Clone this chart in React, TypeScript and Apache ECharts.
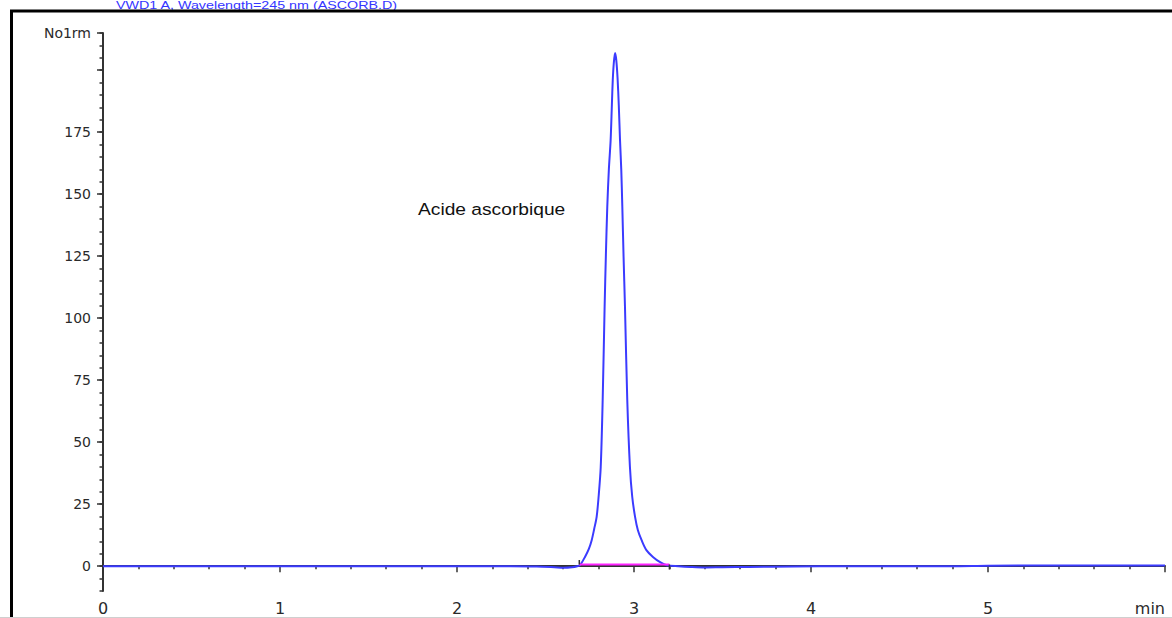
import React, { useEffect, useRef } from "react";
import * as echarts from "echarts";

// Chromatogram trace (time in min, response)
const times = [
  0, 0.5, 1.0, 1.5, 2.0, 2.3, 2.45, 2.55, 2.6, 2.65, 2.68, 2.695, 2.723, 2.745, 2.761,
  2.775, 2.789, 2.8, 2.812, 2.823, 2.834, 2.841, 2.849, 2.858, 2.868, 2.875, 2.88, 2.886,
  2.893, 2.9, 2.907, 2.914, 2.921, 2.928, 2.934, 2.941, 2.949, 2.962, 2.977, 2.99, 3.006,
  3.022, 3.043, 3.07, 3.107, 3.15, 3.185, 3.25, 3.32, 3.4, 3.5, 3.65, 3.9, 4.2, 4.8, 5.0,
  5.5, 6.0,
];
const values = [
  0, 0, 0, 0, 0, 0, -0.1, -0.4, -0.6, -0.4, 0.0, 0.4, 3.75, 7.0, 10.5,
  15.0, 19.9, 28.0, 40.0, 66.9, 104.6, 125, 144.9, 160, 171.8, 186, 196, 203,
  206.9, 204, 197, 186, 171.8, 160, 144.9, 125, 104.6, 66.9, 40.0, 28.0, 19.9,
  14.5, 10.5, 6.5, 3.75, 1.5, 0.4, 0.0, -0.3, -0.5, -0.4, -0.3, -0.1, 0.0, 0.0, 0.2,
  0.3, 0.3,
];

// Integration baseline and its start / end markers
const baseStart = 2.691;
const baseEnd = 3.2;
const baseLevel = 0.7;

const peakName = "Acide ascorbique";
const signalTitle = "VWD1 A, Wavelength=245 nm (ASCORB.D)";
const yUnit = "No1rm";
const xUnit = "min";

const yMajorTicks = [0, 25, 50, 75, 100, 125, 150, 175, 200, 215];
const yLabelValues = [0, 25, 50, 75, 100, 125, 150, 175, 215];

export default function App() {
  const ref = useRef<HTMLDivElement>(null);
  useEffect(() => {
    if (!ref.current) return;
    const chart = echarts.init(ref.current, null, { renderer: "svg" });
    const trace = times.map((t, i) => [t, values[i]]);
    const axisColor = "#333";
    const labelFont = "'DejaVu Sans', 'Liberation Sans', Arial, sans-serif";
    chart.setOption({
      animation: false,
      backgroundColor: "#ffffff",
      grid: { left: 103, right: 7, top: 33, bottom: 27, containLabel: false, outerBoundsMode: "none" },
      xAxis: {
        type: "value",
        min: 0,
        max: 6,
        interval: 1,
        axisLine: { show: true, lineStyle: { color: axisColor, width: 2 } },
        axisTick: { show: true, length: 6, lineStyle: { color: axisColor, width: 1.5 } },
        minorTick: { show: true, splitNumber: 5, length: 3, lineStyle: { color: axisColor, width: 1.5 } },
        splitLine: { show: false },
        axisLabel: {
          margin: 9,
          color: "#2a2a2a",
          fontSize: 16,
          fontFamily: labelFont,
          alignMaxLabel: "right",
          formatter: (v: number) => (v === 6 ? xUnit : String(v)),
        },
      },
      yAxis: [
        {
          type: "value",
          min: -10,
          max: 215,
          position: "left",
          axisLine: { show: true, lineStyle: { color: axisColor, width: 2 } },
          axisTick: { show: true, length: 6, customValues: yMajorTicks, lineStyle: { color: axisColor, width: 1.5 } },
          splitLine: { show: false },
          axisLabel: {
            margin: 12,
            color: "#2a2a2a",
            fontSize: 14,
            fontFamily: labelFont,
            customValues: yLabelValues,
            formatter: (v: number) => (v === 215 ? yUnit : String(v)),
          },
        },
        {
          type: "value",
          min: -10,
          max: 215,
          interval: 5,
          position: "left",
          axisLine: { show: false },
          axisTick: { show: true, length: 3.5, lineStyle: { color: axisColor, width: 1.5 } },
          axisLabel: { show: false },
          splitLine: { show: false },
        },
      ],
      series: [
        {
          type: "line",
          data: trace,
          yAxisIndex: 0,
          showSymbol: false,
          smooth: 0.3,
          lineStyle: { color: "#3b3bff", width: 2 },
          z: 3,
        },
        {
          type: "line",
          data: [
            [baseStart, baseLevel],
            [baseEnd, baseLevel],
          ],
          yAxisIndex: 0,
          showSymbol: false,
          lineStyle: { color: "#ff22ff", width: 2 },
          z: 6,
        },
        {
          type: "line",
          data: [
            [baseStart, baseLevel],
            [baseStart, baseLevel + 1.8],
          ],
          yAxisIndex: 0,
          showSymbol: false,
          lineStyle: { color: "#333", width: 1.5 },
          z: 7,
        },
        {
          type: "line",
          data: [
            [baseEnd, baseLevel],
            [baseEnd, baseLevel - 2],
          ],
          yAxisIndex: 0,
          showSymbol: false,
          lineStyle: { color: "#333", width: 1.5 },
          z: 7,
        },
      ],
      graphic: [
        {
          type: "text",
          x: 116,
          y: 0,
          style: {
            text: signalTitle,
            fill: "#3535ff",
            font: "11px 'Liberation Sans', Arial, sans-serif",
            verticalAlign: "top",
          },
          scaleX: 1.3,
        },
        {
          type: "rect",
          shape: { x: 11.5, y: 11, width: 1300, height: 800 },
          style: { fill: "none", stroke: "#000", lineWidth: 3 },
          silent: true,
        },
        {
          type: "line",
          shape: { x1: 0, y1: 617.5, x2: 1172, y2: 617.5 },
          style: { stroke: "#cfcfcf", lineWidth: 1 },
          silent: true,
        },
        {
          type: "text",
          x: 418,
          y: 209,
          scaleX: 1.13,
          style: {
            text: peakName,
            fill: "#111",
            font: "17px 'Liberation Sans', Arial, sans-serif",
            verticalAlign: "middle",
          },
        },
      ],
    });
    return () => chart.dispose();
  }, []);
  return (
    <div
      ref={ref}
      style={{ position: "fixed", left: 0, top: 0, width: 1172, height: 618, background: "#fff" }}
    />
  );
}
